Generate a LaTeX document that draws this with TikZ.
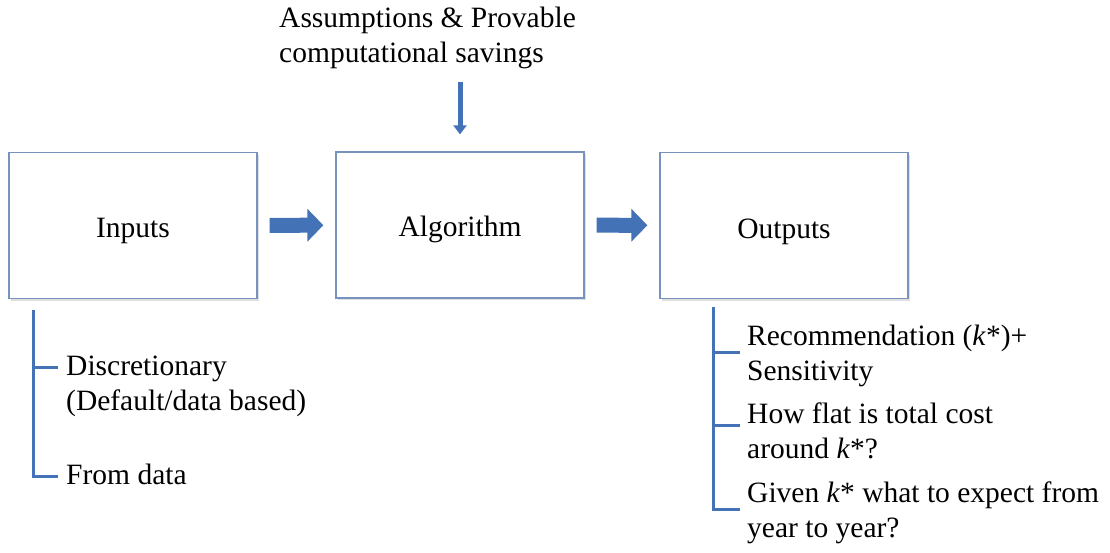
\documentclass[tikz,border=0pt]{standalone}
\usepackage{fontspec}
\setmainfont{Liberation Serif}
\usetikzlibrary{arrows.meta,calc,shadows}
\definecolor{pfeilblau}{RGB}{68,114,182}
\definecolor{rahmen}{RGB}{120,146,190}

\begin{document}
\begin{tikzpicture}[x=1pt, y=-1pt,
	every node/.style={font=\fontsize{29.5}{35.5}\selectfont},
	kasten/.style={draw=rahmen, line width=1.3pt, fill=white, minimum width=248pt, minimum height=146pt,
		drop shadow={shadow xshift=1.5pt, shadow yshift=-2pt, opacity=0.25}},
	blockpfeil/.style={pfeilblau, line width=15pt, -{Triangle[length=16pt, width=32pt]}, shorten <=12pt, shorten >=12pt},
	klammer/.style={pfeilblau, line width=3pt},
	punkt/.style={anchor=base west, align=left, inner sep=0pt}]

	\useasboundingbox (0,0) rectangle (1110,552);

	% Kaesten
	\node[kasten] (inputs) at (133,225.5) {\raisebox{-11.5pt}[0pt][0pt]{Inputs}};
	\node[kasten] (algo) at (460,225) {\raisebox{-11.5pt}[0pt][0pt]{Algorithm}};
	\node[kasten] (outputs) at (784,225.5) {\raisebox{-12.5pt}[0pt][0pt]{Outputs}};

	\draw[blockpfeil] (inputs) -- (algo);
	\draw[blockpfeil] (algo) -- (outputs);

	% Annahmen
	\node[punkt] (annahmen) at (279,62.5) {Assumptions \& Provable\\computational savings};
	\draw[pfeilblau, line width=5pt, -{Triangle[length=9pt, width=13pt]}, shorten <=13pt, shorten >=17pt]
		(annahmen.south -| algo.north) -- (algo.north);

	% Eingaben
	\coordinate (inoben) at (33,310);
	\node[punkt] (in1) at (66,410.5) {Discretionary\\(Default/data based)};
	\node[punkt] (in2) at (66,484) {From data};
	\draw[klammer] (inoben) |- ([xshift=-8pt, yshift=18.7pt]in1.west);
	\draw[klammer] (inoben) |- ([xshift=-8pt, yshift=-3pt]in2.west);

	% Ausgaben
	\coordinate (outoben) at (713,307);
	\node[punkt] (out1) at (747,380.5) {Recommendation (\textit{k}*)+\\Sensitivity};
	\node[punkt] (out2) at (747,458.5) {How flat is total cost\\around \textit{k}*?};
	\node[punkt] (out3) at (747,537.5) {Given \textit{k}* what to expect from\\year to year?};
	\draw[klammer] (outoben) |- ([xshift=-7pt, yshift=3.6pt]out1.west);
	\draw[klammer] (outoben) |- ([xshift=-7pt, yshift=4.7pt]out2.west);
	\draw[klammer] (outoben) |- ([xshift=-7pt, yshift=2.9pt]out3.west);

\end{tikzpicture}
\end{document}
